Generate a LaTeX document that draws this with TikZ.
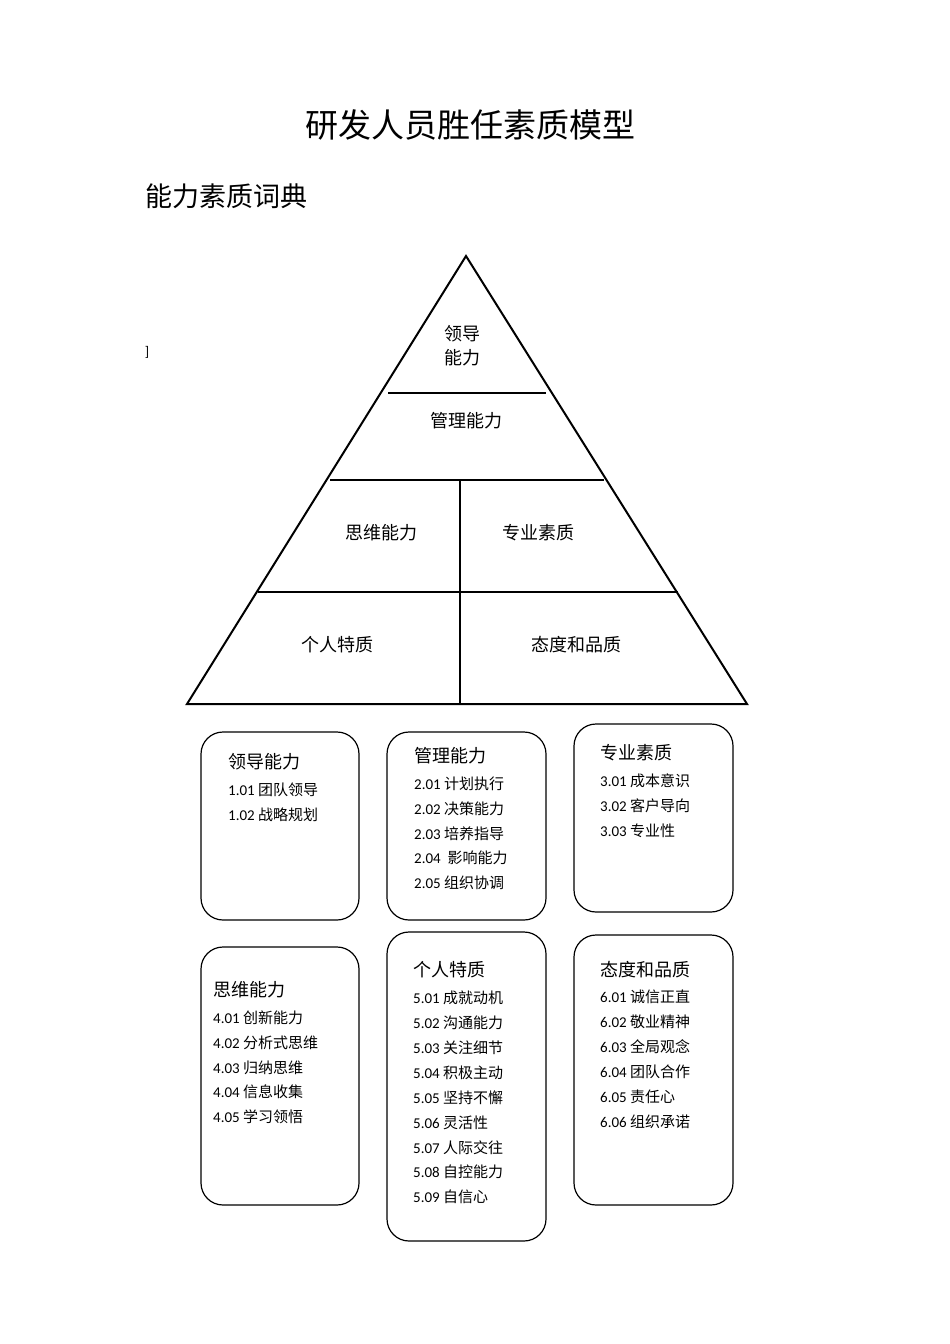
\documentclass[tikz,border=0pt]{standalone}
\usepackage{fontspec}
\setmainfont{Carlito}
\newfontfamily\cjk{Noto Sans CJK SC}
\begin{document}
\begin{tikzpicture}[x=1pt,y=-1pt,
  tri/.style={line width=2pt},
  box/.style={draw,line width=1.2pt,rounded corners=22pt},
  lbl/.style={font=\cjk\fontsize{18}{20}\selectfont,inner sep=0pt},
  hd/.style={anchor=west,font=\cjk\fontsize{18}{20}\selectfont,inner sep=0pt},
  it/.style={anchor=west,font=\fontsize{15}{17}\selectfont,inner sep=0pt}]
\useasboundingbox[fill=white] (0,0) rectangle (950,1344);
\node[font=\cjk\fontsize{33}{36}\selectfont] (title) at (470,125) {研发人员胜任素质模型};
\node[anchor=west,font=\cjk\fontsize{27}{30}\selectfont,inner sep=0pt] (sub) at (145,196) {能力素质词典};
\node[font=\fontsize{14}{16}\selectfont] (br) at (147,352) {]};
% pyramid
\coordinate (apex) at (466,256);
\coordinate (bl) at (187,704);
\coordinate (br2) at (747,704);
\draw[tri] (apex) -- (bl) -- (br2) -- cycle;
\draw[tri] (388,393) -- (546,393);
\draw[tri] (330,480) -- (604,480);
\draw[tri] (258,592) -- (678,592);
\draw[tri] (460,480) -- (460,704);
\node[lbl,align=center] (t1) at (462,346) {领导\\[4pt]能力};
\node[lbl] (t2) at (466,421) {管理能力};
\node[lbl] (t3) at (381,533) {思维能力};
\node[lbl] (t4) at (538,533) {专业素质};
\node[lbl] (t5) at (337,645) {个人特质};
\node[lbl] (t6) at (576,645) {态度和品质};
% boxes
\draw[box] (201,732) rectangle (359,920);
\draw[box] (387,732) rectangle (546,920);
\draw[box] (574,724) rectangle (733,912);
\draw[box] (201,947) rectangle (359,1205);
\draw[box] (387,932) rectangle (546,1241);
\draw[box] (574,935) rectangle (733,1205);
% box 1
\node[hd] (h1) at (228,762) {领导能力};
\node[it] at (228,790) {1.01 {\cjk 团队领导}};
\node[it] at (228,815) {1.02 {\cjk 战略规划}};
% box 2
\node[hd] (h2) at (414,756) {管理能力};
\foreach \n/\t [count=\i] in {2.01/计划执行,2.02/决策能力,2.03/培养指导,2.04/{\ 影响能力},2.05/组织协调}
  \node[it] at (414,759+24.8*\i) {\n\ {\cjk \t}};
% box 3
\node[hd] (h3) at (600,753) {专业素质};
\foreach \n/\t [count=\i] in {3.01/成本意识,3.02/客户导向,3.03/专业性}
  \node[it] at (600,756+24.8*\i) {\n\ {\cjk \t}};
% box 4
\node[hd] (h4) at (213,990) {思维能力};
\foreach \n/\t [count=\i] in {4.01/创新能力,4.02/分析式思维,4.03/归纳思维,4.04/信息收集,4.05/学习领悟}
  \node[it] at (213,993+24.8*\i) {\n\ {\cjk \t}};
% box 5
\node[hd] (h5) at (413,970) {个人特质};
\foreach \n/\t [count=\i] in {5.01/成就动机,5.02/沟通能力,5.03/关注细节,5.04/积极主动,5.05/坚持不懈,5.06/灵活性,5.07/人际交往,5.08/自控能力,5.09/自信心}
  \node[it] at (413,973+24.9*\i) {\n\ {\cjk \t}};
% box 6
\node[hd] (h6) at (600,970) {态度和品质};
\foreach \n/\t [count=\i] in {6.01/诚信正直,6.02/敬业精神,6.03/全局观念,6.04/团队合作,6.05/责任心,6.06/组织承诺}
  \node[it] at (600,972+24.9*\i) {\n\ {\cjk \t}};
\end{tikzpicture}
\end{document}
